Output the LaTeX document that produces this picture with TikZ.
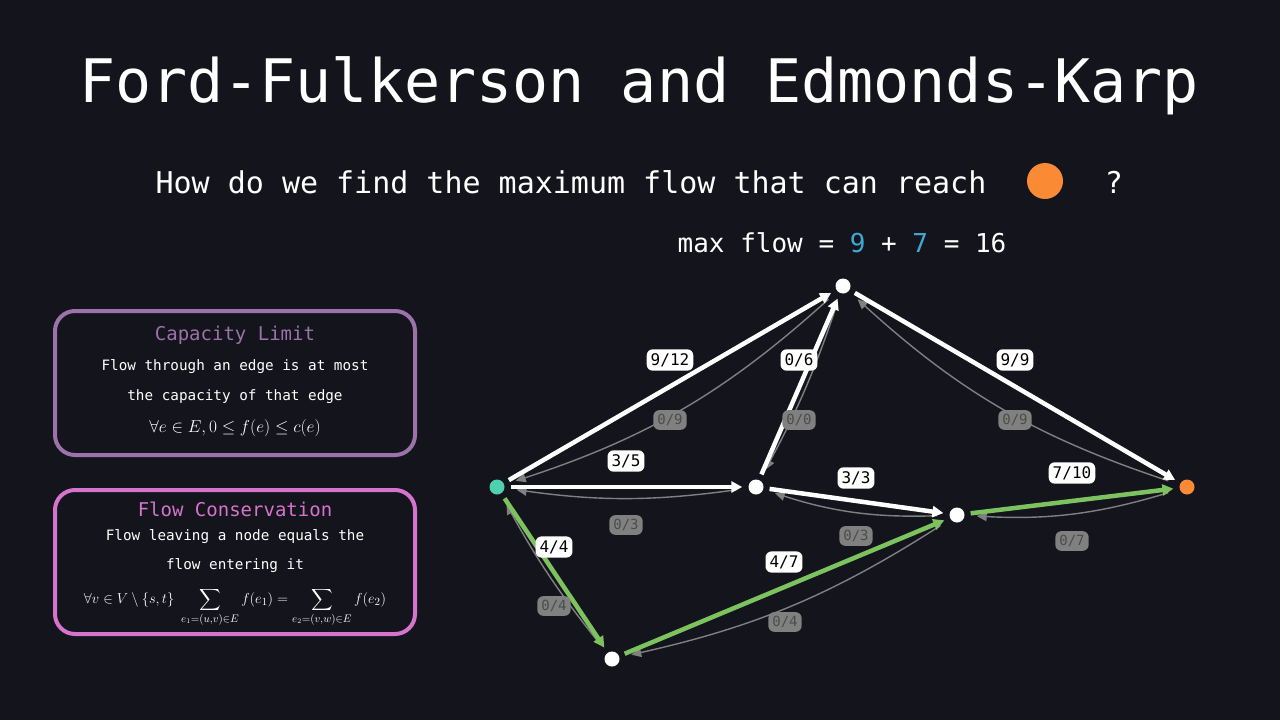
\documentclass[tikz,border=0pt]{standalone}
\usepackage{amsmath,amssymb}
\usepackage{fontspec}
\setmonofont{DejaVu Sans Mono}
\usetikzlibrary{arrows.meta}
\definecolor{bg}{HTML}{14141C}
\definecolor{capcol}{HTML}{9B72AA}
\definecolor{concol}{HTML}{D673CC}
\definecolor{flowgreen}{HTML}{7CC35F}
\definecolor{srccol}{HTML}{4FD1B0}
\definecolor{snkcol}{HTML}{FA8A34}
\definecolor{numblue}{HTML}{3FA9D6}
\tikzset{
  vert/.style={circle, fill=white, inner sep=0pt, minimum size=15pt},
  fwd/.style={-{Triangle[length=11pt,width=11pt]}, white, line width=4.5pt, shorten <=6pt, shorten >=6pt},
  used/.style={fwd, flowgreen},
  back/.style={-{Triangle[length=10pt,width=9pt]}, gray, line width=1.4pt, shorten <=12pt, shorten >=12pt},
  caplbl/.style={fill=white, text=black, rounded corners=6pt, inner sep=4pt, font=\ttfamily\fontsize{16}{16}\selectfont},
  reslbl/.style={fill=gray, text=black!70, rounded corners=6pt, inner sep=4pt, font=\ttfamily\fontsize{14}{14}\selectfont},
  rulebox/.style={line width=4pt, rounded corners=20pt},
  boxtxt/.style={white, font=\ttfamily\fontsize{14.3}{14.3}\selectfont}
}
\begin{document}
\begin{tikzpicture}[x=1pt, y=-1pt]
\fill[bg] (0,0) rectangle (1280,720);

% Title and question
\node[white, font=\ttfamily\fontsize{60}{60}\selectfont] (title) at (639,86) {Ford-Fulkerson and Edmonds-Karp};
\node[white, font=\ttfamily\fontsize{30}{30}\selectfont] (quest) at (571,182) {How do we find the maximum flow that can reach};
\node[circle, fill=snkcol, minimum size=36pt, inner sep=0pt] (qdot) at (1045,181) {};
\node[white, font=\ttfamily\fontsize{30}{30}\selectfont] (qmark) at (1114,182) {?};
\node[white, font=\ttfamily\fontsize{26}{26}\selectfont] (maxflow) at (842,243) {max flow = \textcolor{numblue}{9} + \textcolor{numblue}{7} = 16};

% Capacity limit box
\draw[rulebox, capcol] (55,311) rectangle (415,455);
\node[capcol, font=\ttfamily\fontsize{19}{19}\selectfont] (captitle) at (235,335) {Capacity Limit};
\node[boxtxt] (capl1) at (235,367) {Flow through an edge is at most};
\node[boxtxt] (capl2) at (235,397) {the capacity of that edge};
\node[white, font=\fontsize{17}{17}\selectfont] (capl3) at (235,428) {$\forall e \in E, 0 \leq f(e) \leq c(e)$};

% Flow conservation box
\draw[rulebox, concol] (55,490) rectangle (415,634);
\node[concol, font=\ttfamily\fontsize{19}{19}\selectfont] (contitle) at (235,509) {Flow Conservation};
\node[boxtxt] (conl1) at (235,537) {Flow leaving a node equals the};
\node[boxtxt] (conl2) at (235,566) {flow entering it};
\node[white, font=\fontsize{15}{15}\selectfont, inner sep=0pt] (conl3) at (235,607)
  {$\forall v \in V \setminus \{s,t\}\ \displaystyle\sum_{e_1=(u,v)\in E} f(e_1) = \sum_{e_2=(v,w)\in E} f(e_2)$};

% Vertices
\node[vert, fill=srccol] (src) at (497,487) {};
\node[vert] (top) at (843,286) {};
\node[vert] (mid) at (756,487) {};
\node[vert] (rgt) at (957,515) {};
\node[vert] (bot) at (612,659) {};
\node[vert, fill=snkcol] (snk) at (1187,487) {};

% Residual edges
\draw[back] (top) to[bend left=12] (src);
\draw[back] (mid) to[bend left=8] (src);
\draw[back] (top) to[bend left=5] (mid);
\draw[back] (snk) to[bend left=12] (top);
\draw[back] (rgt) to[bend left=10] (mid);
\draw[back] (snk) to[bend left=10] (rgt);
\draw[back] (bot) to[bend left=5] (src);
\draw[back] (rgt) to[bend left=10] (bot);

% Forward edges
\draw[fwd] (src) -- (top);
\draw[fwd] (src) -- (mid);
\draw[fwd] (mid) -- (top);
\draw[fwd] (top) -- (snk);
\draw[fwd] (mid) -- (rgt);
\draw[used] (rgt) -- (snk);
\draw[used] (src) -- (bot);
\draw[used] (bot) -- (rgt);

% Capacity labels
\node[caplbl] (c1) at (670,360) {9/12};
\node[caplbl] (c2) at (626,461) {3/5};
\node[caplbl] (c3) at (799,360) {0/6};
\node[caplbl] (c4) at (1015,360) {9/9};
\node[caplbl] (c5) at (856,478) {3/3};
\node[caplbl] (c6) at (1072,473) {7/10};
\node[caplbl] (c7) at (554,547) {4/4};
\node[caplbl] (c8) at (784,562) {4/7};

% Residual labels
\node[reslbl] (r1) at (670,420) {0/9};
\node[reslbl] (r2) at (626,525) {0/3};
\node[reslbl] (r3) at (799,420) {0/0};
\node[reslbl] (r4) at (1015,420) {0/9};
\node[reslbl] (r5) at (856,536) {0/3};
\node[reslbl] (r6) at (1072,541) {0/7};
\node[reslbl] (r7) at (554,606) {0/4};
\node[reslbl] (r8) at (785,622) {0/4};
\end{tikzpicture}
\end{document}
